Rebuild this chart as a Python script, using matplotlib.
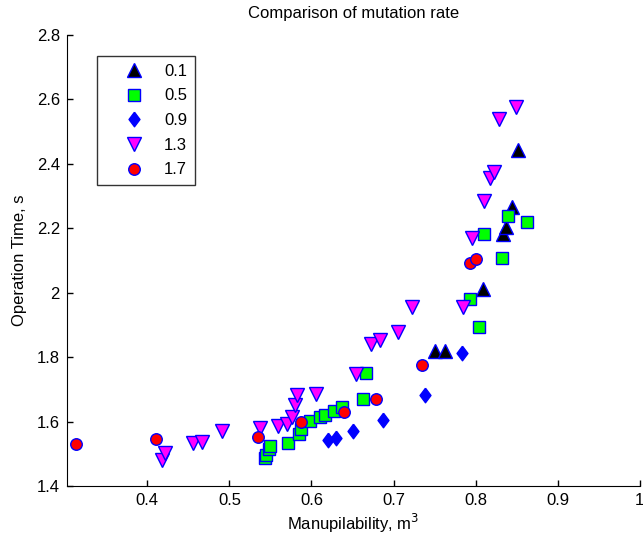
import matplotlib
matplotlib.use("Agg")
import matplotlib.pyplot as plt
import numpy as np

plt.rcParams['font.family'] = ['Liberation Sans', 'DejaVu Sans']

labels = ['0.1', '0.5', '0.9', '1.3', '1.7']

x_01 = [0.750, 0.763, 0.809, 0.833, 0.837, 0.844, 0.852]
y_01 = [1.820, 1.820, 2.012, 2.183, 2.204, 2.267, 2.443]

x_05 = [0.543, 0.545, 0.548, 0.550, 0.571, 0.585, 0.587, 0.598, 0.610, 0.617,
        0.628, 0.637, 0.663, 0.666, 0.793, 0.804, 0.810, 0.832, 0.840, 0.863]
y_05 = [1.487, 1.495, 1.516, 1.525, 1.534, 1.561, 1.578, 1.602, 1.614, 1.620,
        1.633, 1.645, 1.670, 1.751, 1.980, 1.894, 2.183, 2.108, 2.238, 2.220]

x_09 = [0.620, 0.630, 0.650, 0.687, 0.738, 0.784]
y_09 = [1.543, 1.549, 1.571, 1.605, 1.683, 1.813]

x_13 = [0.418, 0.421, 0.456, 0.467, 0.491, 0.537, 0.559, 0.570, 0.576, 0.580,
        0.582, 0.606, 0.654, 0.672, 0.683, 0.705, 0.723, 0.785, 0.795, 0.810,
        0.818, 0.822, 0.828, 0.849]
y_13 = [1.481, 1.502, 1.533, 1.537, 1.571, 1.580, 1.586, 1.593, 1.614, 1.652,
        1.683, 1.686, 1.748, 1.841, 1.853, 1.878, 1.956, 1.956, 2.170, 2.285,
        2.357, 2.375, 2.540, 2.577]

x_17 = [0.313, 0.410, 0.535, 0.587, 0.640, 0.679, 0.735, 0.793, 0.800]
y_17 = [1.530, 1.546, 1.552, 1.599, 1.630, 1.670, 1.776, 2.093, 2.105]

xticks = [0.4, 0.5, 0.6, 0.7, 0.8, 0.9, 1.0]
xticklabels = ['0.4', '0.5', '0.6', '0.7', '0.8', '0.9', '1']
yticks = [1.4, 1.6, 1.8, 2.0, 2.2, 2.4, 2.6, 2.8]
yticklabels = ['1.4', '1.6', '1.8', '2', '2.2', '2.4', '2.6', '2.8']

fig = plt.figure(figsize=(6.43, 5.43), dpi=100)
ax = fig.add_axes([0.104, 0.105, 0.891, 0.8305])

diamond = [(0, 1), (0.75, 0), (0, -1), (-0.75, 0), (0, 1)]

series = [
    (x_01, y_01, '^', 'black', 10.0),
    (x_05, y_05, 's', '#00ff00', 8.3),
    (x_09, y_09, diamond, 'blue', 10.5),
    (x_13, y_13, 'v', 'magenta', 10.0),
    (x_17, y_17, 'o', 'red', 8.3),
]
for (xs, ys, mk, fc, ms), lab in zip(series, labels):
    ax.plot(xs, ys, linestyle='none', marker=mk, markersize=ms,
            markerfacecolor=fc, markeredgecolor='blue', markeredgewidth=1.0,
            label=lab)

ax.set_xlim(0.302, 1.0)
ax.set_ylim(1.4, 2.8)
ax.set_xticks(xticks)
ax.set_xticklabels(xticklabels)
ax.set_yticks(yticks)
ax.set_yticklabels(yticklabels)
ax.tick_params(direction='in', length=4.5, labelsize=12, width=1, pad=5)
for s in ['top', 'right']:
    ax.spines[s].set_visible(False)

ax.set_title('Comparison of mutation rate', fontsize=12, pad=12)
ax.set_xlabel('Manupilability, m$^3$', fontsize=12, labelpad=3)
ax.set_ylabel('Operation Time, s', fontsize=12, labelpad=7)

leg = ax.legend(loc='upper left', bbox_to_anchor=(0.052, 0.953),
                borderaxespad=0, borderpad=0.45, labelspacing=0.58,
                handlelength=3.6, handletextpad=0.0, fontsize=12,
                frameon=True, fancybox=False, edgecolor='black')
leg.get_frame().set_linewidth(1.0)

fig.savefig('out.png', dpi=100)
